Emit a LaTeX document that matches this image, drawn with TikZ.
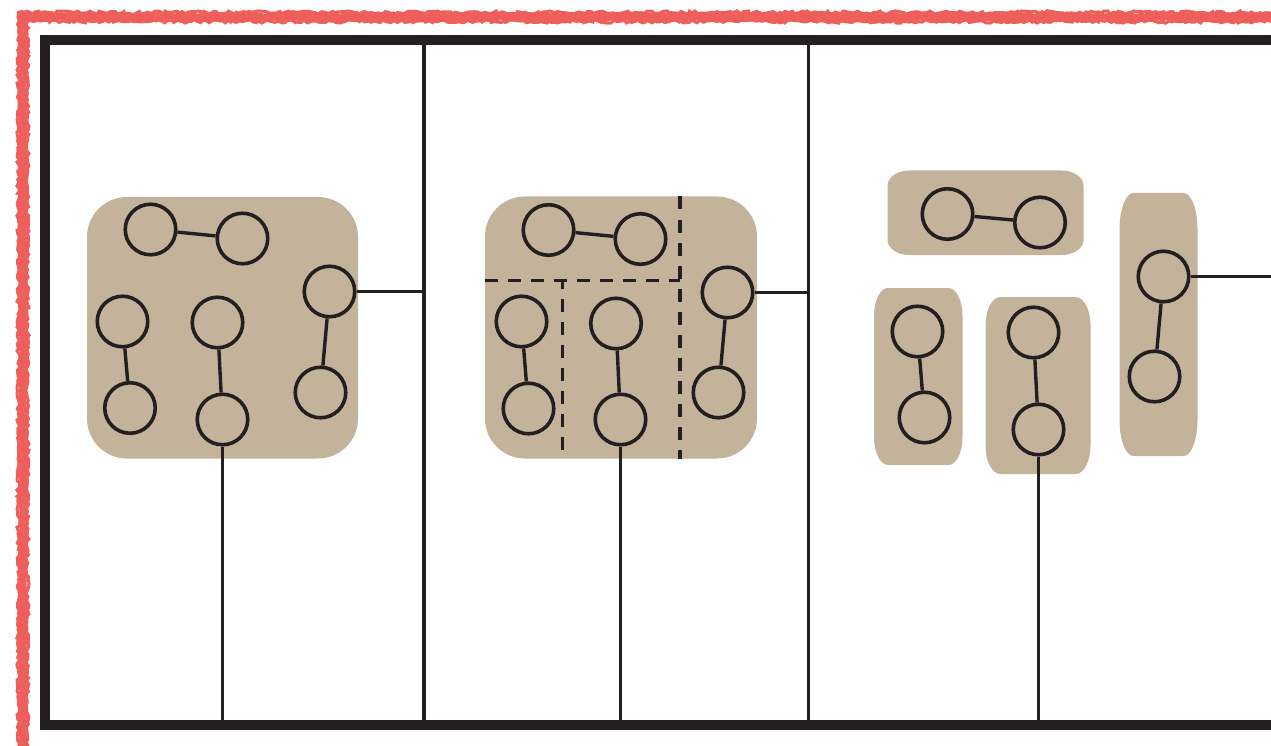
\documentclass[tikz,border=0pt]{standalone}
\usetikzlibrary{decorations.pathmorphing,calc}
\definecolor{ink}{HTML}{231F20}
\definecolor{sand}{HTML}{C4B39B}
\definecolor{crayon}{HTML}{EE5F5B}
% #1 x1, #2 y1 (top), #3 x2, #4 y2 (bottom), #5 corner x radius, #6 corner y radius
\newcommand{\elbox}[6]{%
  \fill[sand] (#1,#2+#6) .. controls (#1,#2+0.4477*#6) and (#1+0.4477*#5,#2) .. (#1+#5,#2)
    -- (#3-#5,#2) .. controls (#3-0.4477*#5,#2) and (#3,#2+0.4477*#6) .. (#3,#2+#6)
    -- (#3,#4-#6) .. controls (#3,#4-0.4477*#6) and (#3-0.4477*#5,#4) .. (#3-#5,#4)
    -- (#1+#5,#4) .. controls (#1+0.4477*#5,#4) and (#1,#4-0.4477*#6) .. (#1,#4-#6) -- cycle;}
\tikzset{
  dot/.style={circle, draw=ink, line width=3.6pt, minimum size=50.5pt, inner sep=0pt},
  conn/.style={draw=ink, line width=3.4pt},
  divline/.style={draw=ink, line width=3.6pt},
  dashln/.style={draw=ink, line width=3.5pt, dash pattern=on 13pt off 10pt},
  frame/.style={draw=ink, line width=10.5pt, line join=miter},
  chalk/.style={draw=crayon, decorate, decoration={random steps, segment length=2pt, amplitude=0.9pt}}
}
\begin{document}
\begin{tikzpicture}[x=1pt,y=-1pt]
\clip (0,0) rectangle (1271,746);
\fill[white] (0,0) rectangle (1271,746);
\pgfmathsetseed{7}
% crayon border
\draw[chalk, line width=8pt] (1290,17) -- (23,17) -- (23,760);
\draw[chalk, line width=3pt, decoration={random steps, segment length=3pt, amplitude=1.6pt}] (1290,12.5) -- (18.5,12.5) -- (18.5,760);
\draw[chalk, line width=3pt, decoration={random steps, segment length=3pt, amplitude=1.6pt}] (1290,21.5) -- (27.5,21.5) -- (27.5,760);
% frame
\coordinate (tl) at (45,40);
\coordinate (bl) at (45,725);
\coordinate (tr) at (1300,40);
\coordinate (br) at (1300,725);
\coordinate (d1t) at (424,40);
\coordinate (d1b) at (424,725);
\coordinate (d2t) at (808.5,40);
\coordinate (d2b) at (808.5,725);
\coordinate (edge) at (1275,0);
\draw[divline] (d1t) -- (d1b);
\draw[divline] (d2t) -- (d2b);
% panel backgrounds
\elbox{87}{197}{358}{458.5}{40}{40}
\elbox{485}{196.5}{757}{458.5}{40}{40}
\elbox{887.5}{170.5}{1083.5}{255}{22}{15}
\elbox{874}{288}{962.5}{465}{14}{28}
\elbox{985.5}{297}{1090.5}{474}{15}{28}
\elbox{1119.5}{193}{1197.5}{456}{14}{36}
% panel 2 dashed partitions
\coordinate (h1) at (485,280.5);
\coordinate (h2) at (680,280.5);
\coordinate (v1t) at (680,196.5);
\coordinate (v1b) at (680,458.5);
\coordinate (v2t) at (562.5,280.5);
\coordinate (v2b) at (562.5,458.5);
\draw[dashln] (h1) -- (h2);
\draw[dashln] (v1t) -- (v1b);
\draw[dashln, dash phase=5pt] (v2t) -- (v2b);
% panel 1 nodes
\node[dot] (a1) at (150.5,229.5) {};
\node[dot] (a2) at (242.5,238.5) {};
\node[dot] (a3) at (122.5,321.5) {};
\node[dot] (a4) at (130,408) {};
\node[dot] (a5) at (217.5,322.5) {};
\node[dot] (a6) at (222.5,419.5) {};
\node[dot] (a7) at (329.5,291.5) {};
\node[dot] (a8) at (320.5,392.5) {};
\draw[conn] (a1) -- (a2);
\draw[conn] (a3) -- (a4);
\draw[conn] (a5) -- (a6);
\draw[conn] (a7) -- (a8);
\draw[conn] (a7) -- (a7 -| d1t);
\draw[conn] (a6.south) -- (a6.south |- d1b);
% panel 2 nodes
\node[dot] (b1) at (548.5,230) {};
\node[dot] (b2) at (640.5,239) {};
\node[dot] (b3) at (521.5,321.5) {};
\node[dot] (b4) at (528.5,408.5) {};
\node[dot] (b5) at (616,323.5) {};
\node[dot] (b6) at (620.5,419.5) {};
\node[dot] (b7) at (727.5,292.5) {};
\node[dot] (b8) at (718.5,392.5) {};
\draw[conn] (b1) -- (b2);
\draw[conn] (b3) -- (b4);
\draw[conn] (b5) -- (b6);
\draw[conn] (b7) -- (b8);
\draw[conn] (b7) -- (b7 -| d2t);
\draw[conn] (b6.south) -- (b6.south |- d2b);
% panel 3 nodes
\node[dot] (c1) at (947.5,214) {};
\node[dot] (c2) at (1040,222.5) {};
\node[dot] (c3) at (917.5,331.5) {};
\node[dot] (c4) at (924.5,417.5) {};
\node[dot] (c5) at (1033.5,332.5) {};
\node[dot] (c6) at (1038.5,429.5) {};
\node[dot] (c7) at (1163.5,276.5) {};
\node[dot] (c8) at (1154.5,376.5) {};
\draw[conn] (c1) -- (c2);
\draw[conn] (c3) -- (c4);
\draw[conn] (c5) -- (c6);
\draw[conn] (c7) -- (c8);
\draw[conn] (c7) -- (c7 -| edge);
\draw[conn] (c6.south) -- (c6.south |- br);
% outer frame
\draw[frame] (tr) -- (tl) -- (bl) -- (br);
\end{tikzpicture}
\end{document}
